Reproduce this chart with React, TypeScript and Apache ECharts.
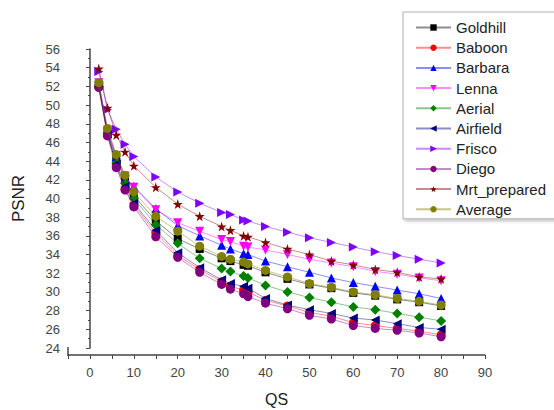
import React, { useEffect, useRef } from "react";
import * as echarts from "echarts";

const qs = [2, 4, 6, 8, 10, 15, 20, 25, 30, 32, 35, 36, 40, 45, 50, 55, 60, 65, 70, 75, 80];

const goldhill = [52.2, 47.0, 44.2, 42.0, 40.3, 37.6, 35.7, 34.6, 33.6, 33.3, 32.9, 32.8, 32.1, 31.4, 30.8, 30.4, 29.9, 29.6, 29.2, 28.9, 28.5];
const baboon = [51.9, 46.8, 43.5, 41.0, 39.3, 36.3, 33.9, 32.4, 31.1, 30.6, 30.2, 30.0, 29.1, 28.5, 27.8, 27.4, 26.7, 26.4, 26.1, 25.8, 25.4];
const barbara = [52.3, 47.2, 44.5, 42.2, 41.3, 38.9, 37.1, 36.0, 35.0, 34.6, 34.1, 34.0, 33.3, 32.7, 32.1, 31.5, 31.0, 30.6, 30.2, 29.8, 29.3];
const lenna = [52.4, 47.3, 44.6, 42.4, 41.2, 38.8, 37.4, 36.5, 35.6, 35.4, 34.9, 34.8, 34.5, 34.0, 33.5, 33.1, 32.7, 32.2, 31.9, 31.5, 31.2];
const aerial = [52.0, 47.0, 43.8, 41.6, 40.0, 37.2, 35.2, 33.6, 32.5, 32.2, 31.7, 31.5, 30.7, 30.0, 29.4, 28.9, 28.4, 28.1, 27.7, 27.3, 26.9];
const airfield = [52.1, 46.9, 43.7, 41.3, 39.5, 36.6, 34.2, 32.6, 31.3, 30.9, 30.6, 30.4, 29.3, 28.6, 28.1, 27.7, 27.2, 27.0, 26.6, 26.2, 26.0];
const frisco = [53.6, 49.5, 47.4, 45.8, 44.5, 42.3, 40.7, 39.5, 38.5, 38.3, 37.7, 37.6, 37.0, 36.4, 35.8, 35.3, 34.8, 34.3, 33.9, 33.5, 33.1];
const diego = [51.9, 46.7, 43.3, 40.9, 39.1, 35.9, 33.7, 32.1, 30.8, 30.3, 29.8, 29.5, 28.8, 28.2, 27.5, 27.1, 26.4, 26.1, 25.9, 25.6, 25.2];
const mrtPrepared = [53.9, 49.7, 46.8, 45.0, 43.5, 41.2, 39.4, 38.1, 37.0, 36.6, 36.0, 35.9, 35.3, 34.6, 34.0, 33.3, 32.9, 32.4, 32.1, 31.6, 31.4];
const average = [52.4, 47.5, 44.7, 42.5, 40.7, 38.1, 36.5, 34.9, 33.8, 33.5, 33.2, 33.0, 32.3, 31.6, 30.9, 30.5, 30.0, 29.7, 29.3, 29.0, 28.6];

const seriesNames = ["Goldhill", "Baboon", "Barbara", "Lenna", "Aerial", "Airfield", "Frisco", "Diego", "Mrt_prepared", "Average"];
const seriesValues = [goldhill, baboon, barbara, lenna, aerial, airfield, frisco, diego, mrtPrepared, average];
const seriesColors = ["#000000", "#ff0000", "#0000ff", "#ff00ff", "#008000", "#000080", "#8000ff", "#800080", "#800000", "#808000"];

const STAR = "path://M50,0 L61,35 L98,35 L68,57 L79,91 L50,70 L21,91 L32,57 L2,35 L39,35 Z";
const seriesSymbols = ["rect", "circle", "triangle", "triangle", "diamond", "triangle", "triangle", "circle", "STAR", "circle"];
const seriesRotate = [0, 0, 0, 180, 0, 90, -90, 0, 0, 0];
const seriesSizes = [8, 9, 9, 9, 10, 9, 9, 9, 10, 9];

export default function App() {
  const ref = useRef<HTMLDivElement>(null);
  useEffect(() => {
    if (!ref.current) return;
    const chart = echarts.init(ref.current, undefined, { renderer: "svg" });
    const font = "Liberation Sans, Arial, sans-serif";
    chart.setOption({
      animation: false,
      backgroundColor: "#ffffff",
      grid: { left: 68, right: 69, top: 49, bottom: 62, outerBoundsMode: "none", containLabel: false },
      graphic: [
        {
          type: "line",
          shape: { x1: 68, y1: 347, x2: 68, y2: 356 },
          style: { stroke: "#444", lineWidth: 1.5 },
          z: 10,
        },
      ],
      legend: {
        orient: "vertical",
        left: 403,
        top: 12,
        padding: [8, 40, 2, 12],
        itemWidth: 35,
        itemHeight: 8,
        itemGap: 5.2,
        backgroundColor: "#ffffff",
        borderColor: "#b0b0b0",
        borderWidth: 1,
        shadowColor: "rgba(0,0,0,0.25)",
        shadowBlur: 3,
        shadowOffsetX: 2,
        shadowOffsetY: 2,
        textStyle: { fontFamily: font, fontSize: 15, color: "#222" },
        data: seriesNames,
      },
      xAxis: {
        type: "value",
        min: -5,
        max: 90,
        interval: 5,
        offset: 7,
        name: "QS",
        nameLocation: "middle",
        nameGap: 36,
        nameTextStyle: { fontFamily: font, fontSize: 16, color: "#222" },
        axisLine: { onZero: false, lineStyle: { color: "#444", width: 1.5 } },
        axisTick: { length: 4, lineStyle: { color: "#444" } },
        splitLine: { show: false },
        axisLabel: {
          fontFamily: font,
          fontSize: 13,
          color: "#444",
          margin: 11,
          formatter: (v: number) => (v % 10 === 0 ? String(v) : ""),
        },
      },
      yAxis: {
        type: "value",
        min: 24,
        max: 56,
        interval: 2,
        name: "PSNR",
        nameLocation: "middle",
        nameGap: 41,
        nameTextStyle: { fontFamily: font, fontSize: 17, color: "#222" },
        axisLine: { show: true, lineStyle: { color: "#444", width: 1.5 } },
        axisTick: { show: true, length: 4, lineStyle: { color: "#444" } },
        minorTick: { show: true, splitNumber: 2, length: 2, lineStyle: { color: "#444" } },
        splitLine: { show: false },
        axisLabel: {
          fontFamily: font,
          fontSize: 13,
          color: "#444",
          margin: 8,
        },
      },
      series: seriesNames.map((name, i) => ({
        name,
        type: "line",
        data: qs.map((x, j) => [x, seriesValues[i][j]]),
        symbol: seriesSymbols[i] === "STAR" ? STAR : seriesSymbols[i],
        symbolRotate: seriesRotate[i],
        symbolSize: seriesSizes[i],
        showAllSymbol: true,
        clip: false,
        color: seriesColors[i],
        itemStyle: { color: seriesColors[i] },
        lineStyle: { color: seriesColors[i], width: 1, opacity: 0.45 },
        z: 2 + i,
      })),
    });
    return () => chart.dispose();
  }, []);
  return (
    <div
      ref={ref}
      style={{ position: "fixed", left: 0, top: 0, width: 554, height: 410 }}
    />
  );
}
